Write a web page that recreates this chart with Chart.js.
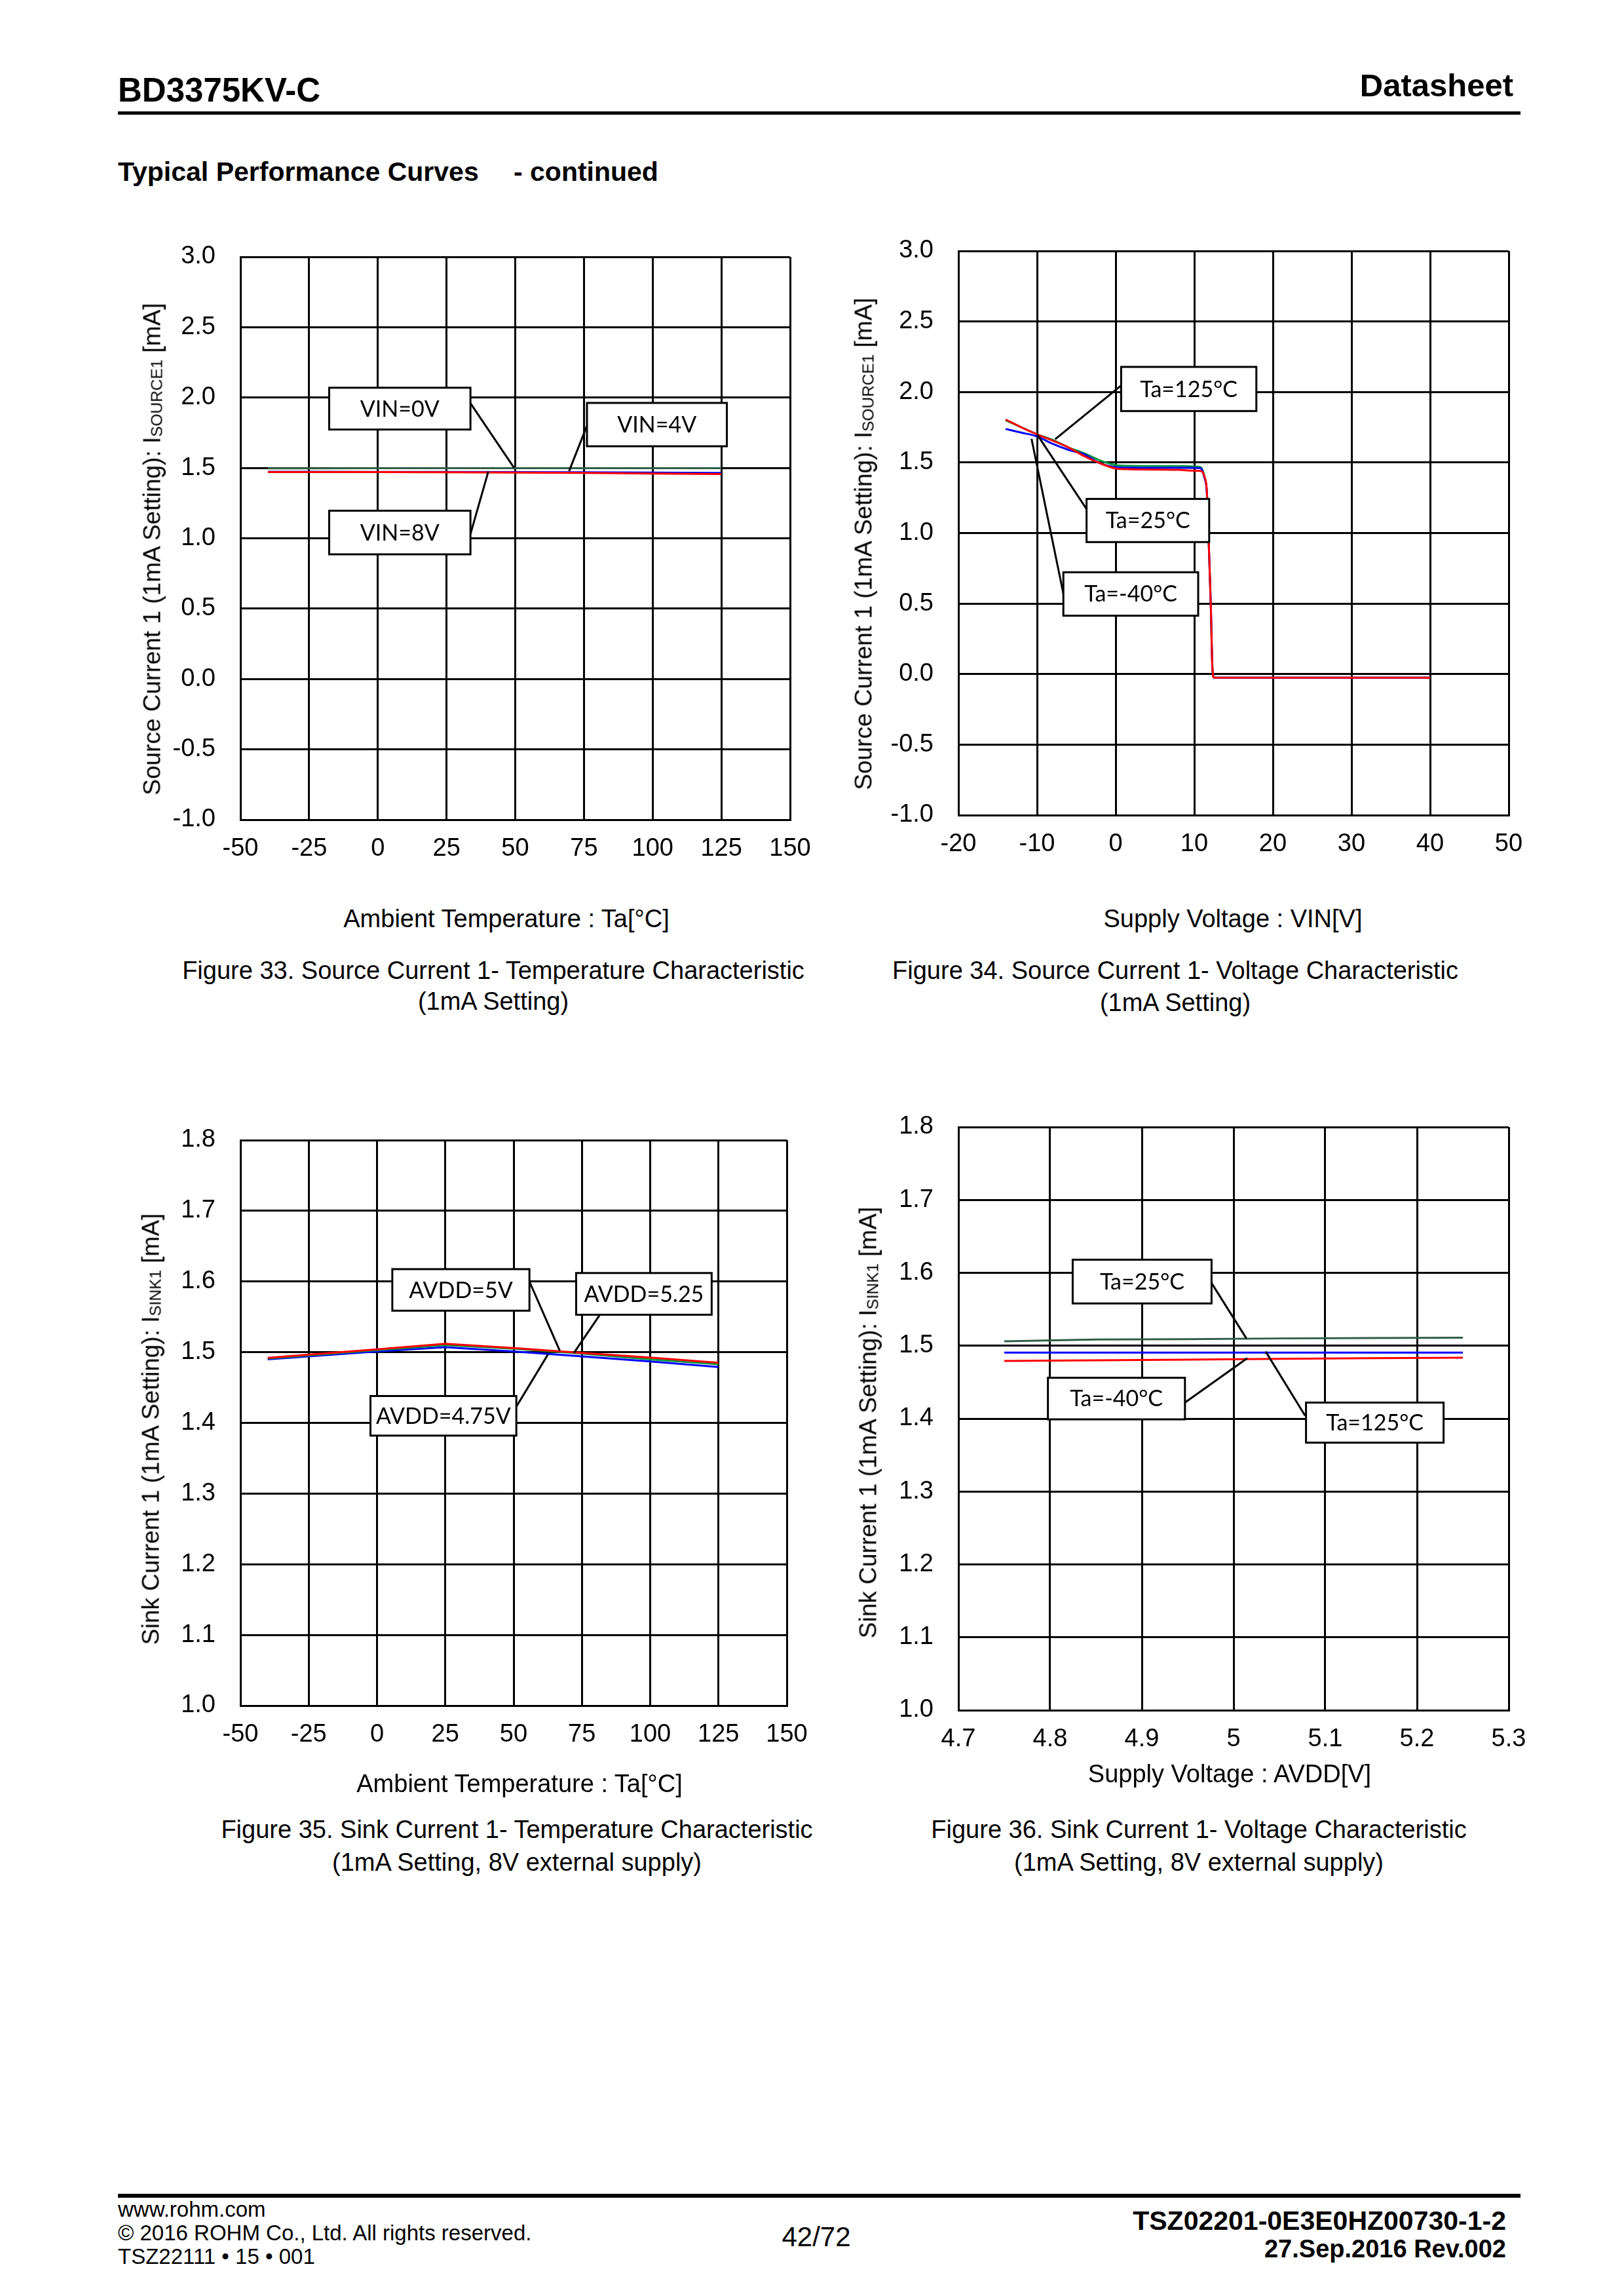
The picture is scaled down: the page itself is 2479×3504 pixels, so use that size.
<!DOCTYPE html>
<html>
<head>
<meta charset="utf-8">
<title>BD3375KV-C Typical Performance Curves</title>
<script src="https://cdn.jsdelivr.net/npm/chart.js@4.4.0/dist/chart.umd.min.js"></script>
<style>
    html, body { margin: 0; padding: 0; background: #fff; }
    body { width: 2479px; height: 3504px; position: relative; overflow: hidden;
           font-family: 'Liberation Sans', Arial, sans-serif; color: #000; }
    .t { position: absolute; white-space: nowrap; line-height: 1; }
    .rule { position: absolute; background: #000; }
    canvas { position: absolute; }
    .ytitle { position: absolute; white-space: nowrap; font-size: 37px; line-height: 1;
              transform: translate(-50%, -50%) rotate(-90deg); }
    .sub { font-size: 0.66em; position: relative; top: 0.12em; }
</style>
</head>
<body>
<script>
// Figure 33 - Source current 1 vs temperature
const fig33Temp = [-40, -25, 0, 25, 50, 75, 100, 125];
const fig33Vin0 = [1.497, 1.497, 1.498, 1.498, 1.498, 1.498, 1.498, 1.498];
const fig33Vin4 = [1.473, 1.473, 1.472, 1.471, 1.470, 1.469, 1.467, 1.465];
const fig33Vin8 = [1.470, 1.470, 1.470, 1.469, 1.467, 1.464, 1.460, 1.456];
const fig33XTicks = [-50, -25, 0, 25, 50, 75, 100, 125, 150];
const fig33YTicks = [-1.0, -0.5, 0.0, 0.5, 1.0, 1.5, 2.0, 2.5, 3.0];

// Figure 34 - Source current 1 vs VIN
const fig34Vin = [-14, -12, -10, -8, -6, -4, -2, 0, 2, 5, 8, 10, 10.8, 11.3, 11.6, 11.8, 12.1, 12.3, 12.5, 15, 20, 30, 40];
const fig34Ta125 = [1.805, 1.75, 1.70, 1.655, 1.607, 1.545, 1.495, 1.458, 1.452, 1.450, 1.448, 1.442, 1.440, 1.40, 1.30, 1.00, 0.50, 0.06, -0.025, -0.025, -0.025, -0.025, -0.025];
const fig34Ta25 = [1.800, 1.75, 1.70, 1.66, 1.607, 1.566, 1.515, 1.482, 1.476, 1.475, 1.475, 1.472, 1.467, 1.40, 1.29, 1.00, 0.50, 0.06, -0.025, -0.025, -0.025, -0.025, -0.025];
const fig34TaM40 = [1.738, 1.712, 1.685, 1.632, 1.590, 1.558, 1.495, 1.467, 1.463, 1.462, 1.462, 1.462, 1.460, 1.39, 1.29, 1.00, 0.50, 0.06, -0.025, -0.025, -0.025, -0.025, -0.025];
const fig34XTicks = [-20, -10, 0, 10, 20, 30, 40, 50];
const fig34YTicks = [-1.0, -0.5, 0.0, 0.5, 1.0, 1.5, 2.0, 2.5, 3.0];

// Figure 35 - Sink current 1 vs temperature
const fig35Temp = [-40, 0, 25, 50, 75, 100, 125];
const fig35Avdd5 = [1.492, 1.504, 1.512, 1.506, 1.499, 1.4925, 1.485];
const fig35Avdd525 = [1.491, 1.503, 1.510, 1.505, 1.498, 1.490, 1.483];
const fig35Avdd475 = [1.490, 1.501, 1.507, 1.501, 1.494, 1.487, 1.479];
const fig35XTicks = [-50, -25, 0, 25, 50, 75, 100, 125, 150];
const fig35YTicks = [1.0, 1.1, 1.2, 1.3, 1.4, 1.5, 1.6, 1.7, 1.8];

// Figure 36 - Sink current 1 vs AVDD
const fig36Avdd = [4.75, 4.85, 4.95, 5.05, 5.15, 5.25];
const fig36Ta25 = [1.506, 1.5085, 1.509, 1.510, 1.5105, 1.511];
const fig36Ta125 = [1.4905, 1.4905, 1.4905, 1.4905, 1.4905, 1.4905];
const fig36TaM40 = [1.479, 1.480, 1.481, 1.482, 1.483, 1.4837];
const fig36XTicks = [4.7, 4.8, 4.9, 5.0, 5.1, 5.2, 5.3];
const fig36XLabels = ['4.7', '4.8', '4.9', '5', '5.1', '5.2', '5.3'];
const fig36YTicks = [1.0, 1.1, 1.2, 1.3, 1.4, 1.5, 1.6, 1.7, 1.8];

const RED = '#ff0000', BLUE = '#0000ff', GREEN = '#00963c', DKGREEN = '#2f5f46';
const FONT = "'Liberation Sans', Arial, sans-serif";

// label boxes with leader lines, placed in data units
const calloutPlugin = {
    id: 'callouts',
    afterDatasetsDraw(chart, args, opts) {
        const notes = opts.notes || [];
        const ctx = chart.ctx, x = chart.scales.x, y = chart.scales.y;
        ctx.save();
        ctx.lineWidth = 3;
        ctx.strokeStyle = '#000';
        notes.forEach(n => {
            ctx.beginPath();
            ctx.moveTo(x.getPixelForValue(n.from[0]), y.getPixelForValue(n.from[1]));
            ctx.lineTo(x.getPixelForValue(n.to[0]), y.getPixelForValue(n.to[1]));
            ctx.stroke();
            const l = x.getPixelForValue(n.box[0]), t = y.getPixelForValue(n.box[1]);
            const r = x.getPixelForValue(n.box[2]), b = y.getPixelForValue(n.box[3]);
            ctx.fillStyle = '#fff';
            ctx.fillRect(l, t, r - l, b - t);
            ctx.strokeRect(l, t, r - l, b - t);
            ctx.fillStyle = '#000';
            ctx.font = '34px Lato, "Open Sans", sans-serif';
            ctx.textAlign = 'center';
            ctx.textBaseline = 'middle';
            ctx.fillText(n.text, (l + r) / 2, (t + b) / 2 + 1);
        });
        ctx.restore();
    }
};

function addText(html, x, y, size, align, bold) {
    const d = document.createElement('div');
    d.className = 't';
    d.innerHTML = html;
    d.style.left = x + 'px';
    d.style.top = y + 'px';
    d.style.fontSize = size + 'px';
    if (bold) d.style.fontWeight = 'bold';
    const tx = align === 'center' ? '-50%' : (align === 'right' ? '-100%' : '0');
    d.style.transform = 'translate(' + tx + ', -50%)';
    document.body.appendChild(d);
}

function addRule(x, y, w, h) {
    const d = document.createElement('div');
    d.className = 'rule';
    d.style.left = x + 'px'; d.style.top = y + 'px';
    d.style.width = w + 'px'; d.style.height = h + 'px';
    document.body.appendChild(d);
}

function addYTitle(html, x, y) {
    const d = document.createElement('div');
    d.className = 'ytitle';
    d.innerHTML = html;
    d.style.left = x + 'px';
    d.style.top = y + 'px';
    document.body.appendChild(d);
}

function makeChart(cfg) {
    // padT must exceed the y scale's own label padding (half label + tick padding)
    const padL = 170, padT = 80, padR = 80, padB = 100;
    const w = cfg.plot.r - cfg.plot.l + padL + padR;
    const h = cfg.plot.b - cfg.plot.t + padT + padB;
    const cv = document.createElement('canvas');
    cv.width = w; cv.height = h;
    cv.style.left = (cfg.plot.l - padL) + 'px';
    cv.style.top = (cfg.plot.t - padT) + 'px';
    cv.style.width = w + 'px';
    cv.style.height = h + 'px';
    document.body.appendChild(cv);

    const tickFont = { family: FONT, size: 38 };
    return new Chart(cv.getContext('2d'), {
        type: 'line',
        data: {
            datasets: cfg.series.map(s => ({
                label: s.label,
                data: cfg.x.map((xv, i) => ({ x: xv, y: s.values[i] })),
                borderColor: s.color,
                borderWidth: 3,
                pointRadius: 0,
                fill: false,
                tension: 0,
                cubicInterpolationMode: cfg.smooth ? 'monotone' : 'default'
            }))
        },
        options: {
            responsive: false,
            animation: false,
            devicePixelRatio: 1,
            layout: { padding: { left: 0, top: padT, right: padR, bottom: 0 } },
            plugins: {
                legend: { display: false },
                tooltip: { enabled: false },
                callouts: { notes: cfg.notes }
            },
            scales: {
                x: {
                    type: 'linear',
                    min: cfg.xTicks[0],
                    max: cfg.xTicks[cfg.xTicks.length - 1],
                    afterBuildTicks: s => { s.ticks = cfg.xTicks.map(v => ({ value: v })); },
                    afterFit: s => { s.height = padB; },
                    ticks: {
                        font: tickFont, color: '#000', padding: 22, maxRotation: 0, autoSkip: false,
                        callback: (v, i) => cfg.xLabels ? cfg.xLabels[i] : String(v)
                    },
                    grid: { color: '#000', lineWidth: 3, drawTicks: false },
                    border: { color: '#000', width: 3 }
                },
                y: {
                    type: 'linear',
                    min: cfg.yTicks[0],
                    max: cfg.yTicks[cfg.yTicks.length - 1],
                    afterBuildTicks: s => { s.ticks = cfg.yTicks.map(v => ({ value: v })); },
                    afterFit: s => { s.width = padL; },
                    ticks: {
                        font: tickFont, color: '#000', padding: 38, autoSkip: false,
                        callback: v => Number(v).toFixed(1)
                    },
                    grid: { color: '#000', lineWidth: 3, drawTicks: false },
                    border: { color: '#000', width: 3 }
                }
            }
        },
        plugins: [calloutPlugin]
    });
}

function drawPage() {
    // header
    addText('BD3375KV-C', 180, 137, 51, 'left', true);
    addText('Datasheet', 2310, 130, 49, 'right', true);
    addRule(180, 170, 2141, 5);
    addText('Typical Performance Curves', 180, 262, 41, 'left', true);
    addText('- continued', 784, 262, 41, 'left', true);

    // first dataset is drawn on top, so red comes first
    makeChart({
        plot: { l: 367, t: 392, r: 1206, b: 1251 },
        x: fig33Temp, xTicks: fig33XTicks, yTicks: fig33YTicks,
        series: [
            { label: 'VIN=8V', values: fig33Vin8, color: RED },
            { label: 'VIN=4V', values: fig33Vin4, color: BLUE },
            { label: 'VIN=0V', values: fig33Vin0, color: DKGREEN }
        ],
        notes: [
            { text: 'VIN=0V', box: [-17.7, 2.07, 33.7, 1.773], from: [33.7, 1.96], to: [49.6, 1.50] },
            { text: 'VIN=4V', box: [76.1, 1.962, 127, 1.654], from: [76.1, 1.80], to: [69.6, 1.478] },
            { text: 'VIN=8V', box: [-17.7, 1.196, 33.7, 0.886], from: [33.7, 1.03], to: [40.2, 1.474] }
        ]
    });
    addYTitle('Source Current 1 (1mA Setting): I<span class="sub">SOURCE1</span> [mA]', 232, 838);
    addText('Ambient Temperature : Ta[°C]', 773, 1402, 38, 'center');
    addText('Figure 33. Source Current 1- Temperature Characteristic', 753, 1481, 38, 'center');
    addText('(1mA Setting)', 753, 1528, 38, 'center');

    makeChart({
        plot: { l: 1463, t: 383, r: 2303, b: 1244 },
        x: fig34Vin, xTicks: fig34XTicks, yTicks: fig34YTicks, smooth: true,
        series: [
            { label: 'Ta=125°C', values: fig34Ta125, color: RED },
            { label: 'Ta=-40°C', values: fig34TaM40, color: BLUE },
            { label: 'Ta=25°C', values: fig34Ta25, color: GREEN }
        ],
        notes: [
            { text: 'Ta=125°C', box: [0.7, 2.178, 17.9, 1.865], from: [0.7, 2.046], to: [-7.7, 1.665] },
            { text: 'Ta=25°C', box: [-3.7, 1.242, 11.9, 0.936], from: [-3.7, 1.17], to: [-10, 1.70] },
            { text: 'Ta=-40°C', box: [-6.65, 0.722, 10.5, 0.414], from: [-6.65, 0.57], to: [-10.7, 1.668] }
        ]
    });
    addYTitle('Source Current 1 (1mA Setting): I<span class="sub">SOURCE1</span> [mA]', 1318, 830);
    addText('Supply Voltage : VIN[V]', 1882, 1402, 38, 'center');
    addText('Figure 34. Source Current 1- Voltage Characteristic', 1794, 1481, 38, 'center');
    addText('(1mA Setting)', 1794, 1530, 38, 'center');

    makeChart({
        plot: { l: 367, t: 1740, r: 1201, b: 2603 },
        x: fig35Temp, xTicks: fig35XTicks, yTicks: fig35YTicks,
        series: [
            { label: 'AVDD=5V', values: fig35Avdd5, color: RED },
            { label: 'AVDD=5.25V', values: fig35Avdd525, color: GREEN },
            { label: 'AVDD=4.75V', values: fig35Avdd475, color: BLUE }
        ],
        notes: [
            { text: 'AVDD=5V', box: [5.6, 1.6175, 55.8, 1.5587], from: [55.8, 1.60], to: [66.9, 1.502] },
            { text: 'AVDD=5.25', box: [72.9, 1.612, 122.5, 1.553], from: [81.6, 1.553], to: [72.1, 1.499] },
            { text: 'AVDD=4.75V', box: [-2.4, 1.438, 51.0, 1.382], from: [51.0, 1.423], to: [62.6, 1.497] }
        ]
    });
    addYTitle('Sink Current 1 (1mA Setting): I<span class="sub">SINK1</span> [mA]', 230, 2181);
    addText('Ambient Temperature : Ta[°C]', 793, 2722, 38, 'center');
    addText('Figure 35. Sink Current 1- Temperature Characteristic', 789, 2792, 38, 'center');
    addText('(1mA Setting, 8V external supply)', 789, 2842, 38, 'center');

    makeChart({
        plot: { l: 1463, t: 1720, r: 2303, b: 2610 },
        x: fig36Avdd, xTicks: fig36XTicks, xLabels: fig36XLabels, yTicks: fig36YTicks,
        series: [
            { label: 'Ta=-40°C', values: fig36TaM40, color: RED },
            { label: 'Ta=125°C', values: fig36Ta125, color: BLUE },
            { label: 'Ta=25°C', values: fig36Ta25, color: DKGREEN }
        ],
        notes: [
            { text: 'Ta=25°C', box: [4.8246, 1.618, 4.976, 1.558], from: [4.975, 1.588], to: [5.014, 1.51] },
            { text: 'Ta=-40°C', box: [4.7976, 1.456, 4.947, 1.399], from: [4.947, 1.422], to: [5.015, 1.483] },
            { text: 'Ta=125°C', box: [5.079, 1.422, 5.229, 1.367], from: [5.078, 1.404], to: [5.035, 1.492] }
        ]
    });
    addYTitle('Sink Current 1 (1mA Setting): I<span class="sub">SINK1</span> [mA]', 1325, 2171);
    addText('Supply Voltage : AVDD[V]', 1877, 2707, 38, 'center');
    addText('Figure 36. Sink Current 1- Voltage Characteristic', 1830, 2792, 38, 'center');
    addText('(1mA Setting, 8V external supply)', 1830, 2842, 38, 'center');

    // footer
    addRule(180, 3348, 2141, 6);
    addText('www.rohm.com', 180, 3371, 33, 'left');
    addText('© 2016 ROHM Co., Ltd. All rights reserved.', 180, 3407, 33, 'left');
    addText('TSZ22111 • 15 • 001', 180, 3443, 33, 'left');
    addText('42/72', 1246, 3414, 42, 'center');
    addText('TSZ02201-0E3E0HZ00730-1-2', 2299, 3389, 41, 'right', true);
    addText('27.Sep.2016 Rev.002', 2299, 3432, 38, 'right', true);
}

document.fonts.load('34px Lato').then(drawPage, drawPage);
</script>
</body>
</html>
